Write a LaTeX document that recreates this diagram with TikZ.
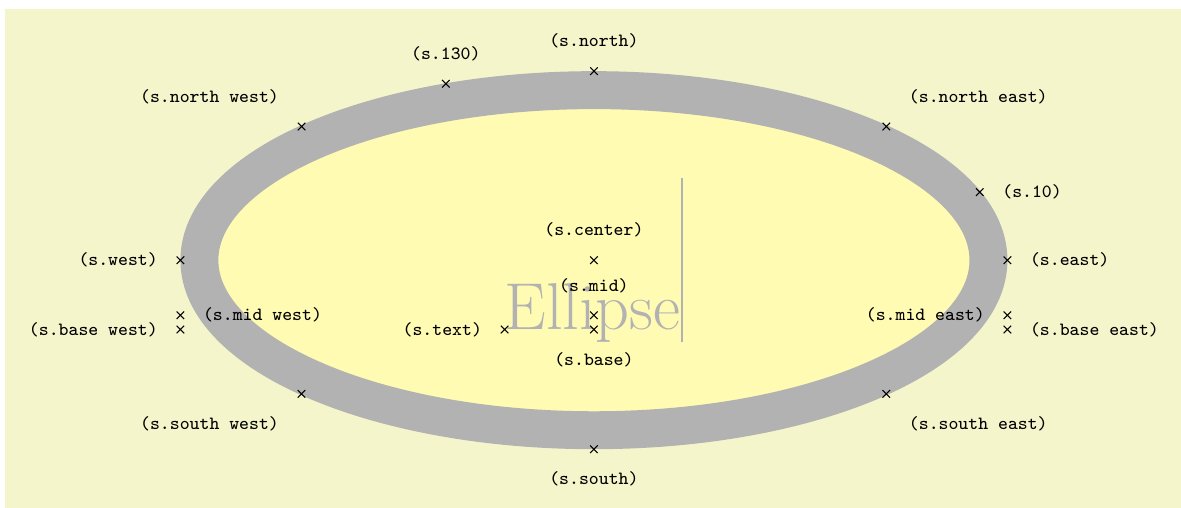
\documentclass[tikz,border=0pt]{standalone}
\usetikzlibrary{shapes.geometric}
\definecolor{graphicbackground}{rgb}{0.96,0.96,0.8}
\tikzset{shape example/.style={color=black!30, draw, fill=yellow!30, line width=.5cm, inner xsep=2.5cm, inner ysep=0.5cm}}
\begin{document}
\Huge
\begin{tikzpicture}
  \useasboundingbox (-7.83,-3.26) rectangle (7.74,3.43);
  \fill[graphicbackground] (-7.76,-3.3) rectangle (7.8,3.31);
  \node[name=s,shape=ellipse,style=shape example] {Ellipse\vrule width 1pt height 2cm};
  \foreach \anchor/\placement in
    {north west/above left, north/above, north east/above right,
     west/left, center/above, east/right,
     mid west/right, mid/above, mid east/left,
     base west/left, base/below, base east/right,
     south west/below left, south/below, south east/below right,
     text/left, 10/right, 130/above}
     \draw[shift=(s.\anchor)] plot[mark=x] coordinates{(0,0)}
       node[\placement] {\scriptsize\texttt{(s.\anchor)}};
\end{tikzpicture}
\end{document}
